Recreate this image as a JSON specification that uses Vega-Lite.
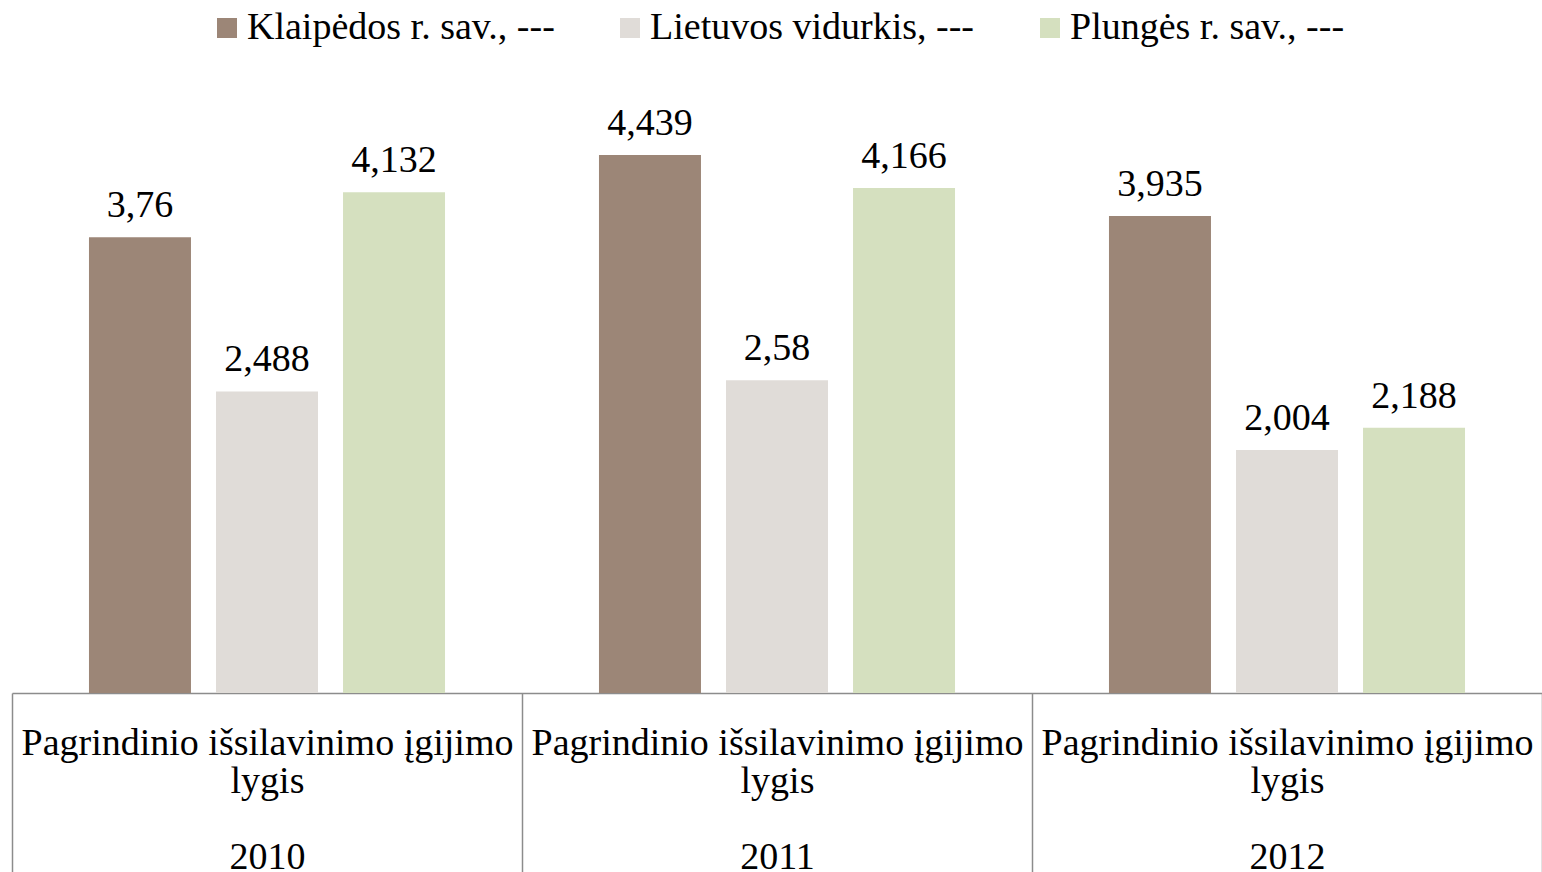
{
  "$schema": "https://vega.github.io/schema/vega-lite/v6.json",
  "width": 1530,
  "height": 606,
  "autosize": {"type": "none"},
  "padding": {"left": 12, "top": 87, "right": 0, "bottom": 179},
  "background": "white",
  "config": {
    "view": {"stroke": null},
    "font": "Liberation Serif",
    "locale": {"number": {"decimal": ",", "thousands": " ", "grouping": [3], "currency": ["", " €"]}}
  },
  "data": {
    "values": [
      {"year": "2010", "series": "Klaipėdos r. sav., ---", "value": 3.76},
      {"year": "2010", "series": "Lietuvos vidurkis, ---", "value": 2.488},
      {"year": "2010", "series": "Plungės r. sav., ---", "value": 4.132},
      {"year": "2011", "series": "Klaipėdos r. sav., ---", "value": 4.439},
      {"year": "2011", "series": "Lietuvos vidurkis, ---", "value": 2.58},
      {"year": "2011", "series": "Plungės r. sav., ---", "value": 4.166},
      {"year": "2012", "series": "Klaipėdos r. sav., ---", "value": 3.935},
      {"year": "2012", "series": "Lietuvos vidurkis, ---", "value": 2.004},
      {"year": "2012", "series": "Plungės r. sav., ---", "value": 2.188}
    ]
  },
  "encoding": {
    "x": {
      "field": "year", "type": "nominal",
      "scale": {"paddingInner": 0, "paddingOuter": 0},
      "axis": {
        "title": null, "orient": "bottom",
        "labelAngle": 0,
        "labelExpr": "isValid(datum.value) && datum.value != '' ? ['Pagrindinio išsilavinimo įgijimo', 'lygis', '\u200b', datum.value] : ''",
        "labelFont": "Liberation Serif", "labelFontSize": 38, "labelColor": "#000000",
        "labelLineHeight": 38, "labelBaseline": "alphabetic", "labelPadding": -139,
        "labelOverlap": false, "labelLimit": 0,
        "tickBand": "extent", "tickSize": 200, "tickColor": "#8c8c8c", "tickWidth": 1.5,
        "domainColor": "#8c8c8c", "domainWidth": 1.5,
        "grid": false
      }
    },
    "xOffset": {
      "field": "series", "type": "nominal",
      "scale": {"paddingInner": 0.197, "paddingOuter": 0.606}
    },
    "y": {
      "field": "value", "type": "quantitative",
      "scale": {"domain": [0, 5], "nice": false},
      "axis": null
    }
  },
  "layer": [
    {
      "mark": {"type": "bar"},
      "encoding": {
        "color": {
          "field": "series", "type": "nominal",
          "scale": {"range": ["#9c8677", "#e0dcd8", "#d5e0bf"]},
          "legend": {
            "title": null, "orient": "none", "direction": "horizontal",
            "legendX": 196, "legendY": -78, "padding": 0,
            "symbolType": "square", "symbolSize": 400, "symbolStrokeWidth": 0,
            "labelFont": "Liberation Serif", "labelFontSize": 38, "labelColor": "#000000",
            "labelOffset": 1, "columnPadding": 56, "labelLimit": 600
          }
        }
      }
    },
    {
      "mark": {"type": "text", "baseline": "alphabetic", "dy": -20, "fontSize": 38, "font": "Liberation Serif", "color": "#000000"},
      "encoding": {
        "text": {"field": "value", "type": "quantitative", "format": ".3~f"}
      }
    }
  ]
}
